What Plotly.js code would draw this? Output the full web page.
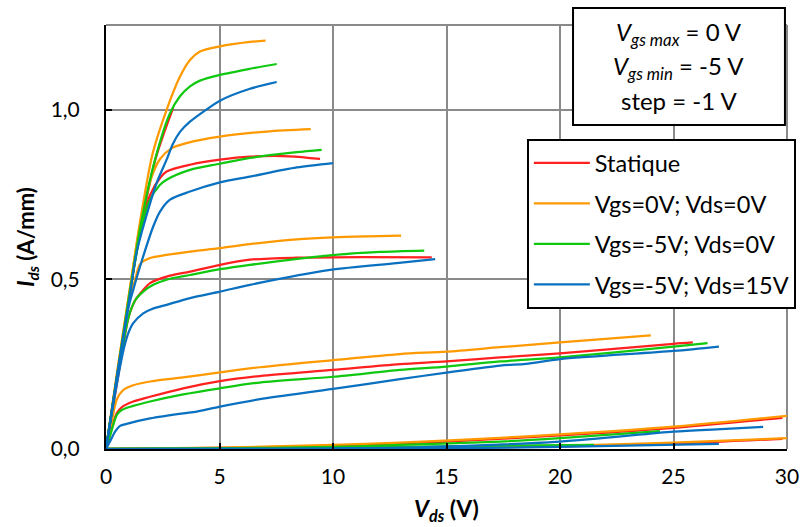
<!DOCTYPE html>
<html>
<head>
<meta charset="utf-8">
<script src="https://cdn.plot.ly/plotly-3.0.1.min.js"></script>
<style>html,body{margin:0;padding:0;background:#fff;}#chart{width:801px;height:527px;}</style>
</head>
<body>
<div id="chart"></div>
<script>
// Series names
const seriesNames = ["Statique", "Vgs=0V; Vds=0V", "Vgs=-5V; Vds=0V", "Vgs=-5V; Vds=15V"];
const seriesColors = ["#FF2020", "#FF9900", "#11C811", "#0A70C0"];

// ---- Statique (red) ----
const statV0 = [0, 0.5, 1.0, 1.5, 2.16, 2.6, 2.96];
const statI0 = [0, 0.22, 0.44, 0.64, 0.85, 0.94, 1.006];
const statV1 = [0, 0.5, 1.0, 1.5, 1.95, 2.38, 2.67, 3.7, 5.02, 6.34, 8.1, 9.43];
const statI1 = [0, 0.22, 0.44, 0.64, 0.75, 0.799, 0.818, 0.838, 0.853, 0.862, 0.863, 0.855];
const statV2 = [0, 0.5, 1.0, 1.3, 1.64, 1.94, 2.67, 3.7, 5.02, 6.34, 8.4, 11.3, 14.35];
const statI2 = [0, 0.2, 0.39, 0.44, 0.469, 0.489, 0.508, 0.523, 0.543, 0.558, 0.564, 0.566, 0.565];
const statV3 = [0, 0.25, 0.47, 0.69, 1.2, 1.94, 3.4, 5.02, 6.78, 10, 12.95, 15, 17.36, 20, 25, 25.85];
const statI3 = [0, 0.06, 0.105, 0.123, 0.14, 0.154, 0.179, 0.2, 0.215, 0.233, 0.25, 0.258, 0.27, 0.282, 0.31, 0.314];
const statV4 = [0, 5, 10, 15, 20, 24.7, 29.8];
const statI4 = [0, 0.003, 0.01, 0.022, 0.04, 0.061, 0.092];
const statV5 = [0, 10, 15, 20, 25, 29.8];
const statI5 = [0, 0.001, 0.003, 0.008, 0.016, 0.03];

// ---- Vgs=0V; Vds=0V (orange) ----
const q0V0 = [0, 0.5, 1.0, 1.5, 2.05, 2.67, 3.26, 3.7, 4.14, 5.02, 6.34, 7.03];
const q0I0 = [0, 0.23, 0.45, 0.67, 0.87, 1.0, 1.098, 1.147, 1.172, 1.187, 1.2, 1.204];
const q0V1 = [0, 0.5, 1.0, 1.5, 2.0, 2.38, 2.9, 3.55, 5.02, 7.08, 9.02];
const q0I1 = [0, 0.23, 0.45, 0.66, 0.8, 0.855, 0.887, 0.902, 0.921, 0.936, 0.943];
const q0V2 = [0, 0.5, 1.0, 1.28, 1.5, 1.94, 2.67, 3.7, 5.02, 6.34, 8.4, 10, 11.5, 13];
const q0I2 = [0, 0.22, 0.43, 0.499, 0.545, 0.563, 0.572, 0.582, 0.592, 0.604, 0.618, 0.624, 0.627, 0.629];
const q0V3 = [0, 0.25, 0.47, 0.76, 1.2, 1.94, 3.4, 5.02, 6.78, 10, 12.95, 15, 17.36, 20, 24];
const q0I3 = [0, 0.08, 0.145, 0.174, 0.188, 0.199, 0.211, 0.226, 0.241, 0.262, 0.28, 0.287, 0.3, 0.314, 0.335];
const q0V4 = [0, 5, 10, 12.95, 17.36, 20, 25, 30];
const q0I4 = [0, 0.004, 0.012, 0.019, 0.033, 0.043, 0.066, 0.098];
const q0V5 = [0, 10, 15, 21.6, 25, 30];
const q0I5 = [0, 0.002, 0.005, 0.012, 0.019, 0.032];

// ---- Vgs=-5V; Vds=0V (green) ----
const q1V0 = [0, 0.5, 1.0, 1.5, 2.16, 2.82, 3.26, 3.7, 4.14, 5.02, 6.34, 7.52];
const q1I0 = [0, 0.22, 0.44, 0.65, 0.853, 0.99, 1.04, 1.069, 1.086, 1.103, 1.121, 1.135];
const q1V1 = [0, 0.5, 1.0, 1.5, 1.9, 2.38, 2.67, 3.7, 5.02, 6.34, 8.4, 9.5];
const q1I1 = [0, 0.22, 0.44, 0.63, 0.73, 0.779, 0.794, 0.823, 0.841, 0.858, 0.875, 0.882];
const q1V2 = [0, 0.5, 1.0, 1.3, 1.64, 2.08, 2.67, 3.7, 5.02, 6.34, 9.87, 12.07, 14.02];
const q1I2 = [0, 0.21, 0.39, 0.44, 0.464, 0.484, 0.499, 0.513, 0.53, 0.543, 0.571, 0.581, 0.585];
const q1V3 = [0, 0.25, 0.47, 0.69, 1.2, 1.94, 3.4, 5.02, 6.78, 10, 12.95, 15, 17.36, 20, 25, 26.5];
const q1I3 = [0, 0.055, 0.1, 0.115, 0.127, 0.14, 0.161, 0.179, 0.196, 0.213, 0.233, 0.243, 0.258, 0.27, 0.302, 0.312];
const q1V4 = [0, 5, 10, 12.95, 17.36, 20, 24.4];
const q1I4 = [0, 0.002, 0.006, 0.012, 0.022, 0.032, 0.053];
const q1V5 = [0, 5, 10, 15, 21.5];
const q1I5 = [0, 0.002, 0.004, 0.008, 0.012];

// ---- Vgs=-5V; Vds=15V (blue) ----
const q2V0 = [0, 0.5, 1.0, 1.35, 1.79, 2.23, 2.67, 2.95, 3.26, 3.7, 4.58, 5.02, 6.34, 7.52];
const q2I0 = [0, 0.22, 0.43, 0.58, 0.69, 0.784, 0.853, 0.9, 0.935, 0.965, 1.008, 1.027, 1.062, 1.082];
const q2V1 = [0, 0.5, 1.0, 1.2, 1.5, 2.08, 2.38, 2.82, 3.7, 5.02, 6.34, 8.4, 10.0];
const q2I1 = [0, 0.22, 0.42, 0.469, 0.538, 0.656, 0.7, 0.735, 0.759, 0.786, 0.803, 0.83, 0.843];
const q2V2 = [0, 0.5, 0.8, 0.98, 1.2, 1.64, 2.0, 2.67, 3.7, 5.02, 6.34, 9.87, 12.8, 14.5];
const q2I2 = [0, 0.2, 0.3, 0.341, 0.371, 0.4, 0.412, 0.425, 0.445, 0.464, 0.484, 0.528, 0.548, 0.56];
const q2V3 = [0, 0.2, 0.4, 0.62, 0.91, 1.94, 3.4, 4.0, 5.02, 6.78, 10, 12.95, 15, 17.36, 18.5, 20, 25, 27];
const q2I3 = [0, 0.025, 0.051, 0.068, 0.074, 0.09, 0.105, 0.11, 0.125, 0.147, 0.177, 0.206, 0.225, 0.246, 0.251, 0.265, 0.289, 0.302];
const q2V4 = [0, 5, 10, 12.95, 20, 25, 26.9, 28.95];
const q2I4 = [0, 0.001, 0.002, 0.004, 0.022, 0.051, 0.058, 0.065];
const q2V5 = [0, 10, 12.95, 20, 27];
const q2I5 = [0, 0.0, 0.001, 0.006, 0.015];

// Axis tick values
const xTicks = [0, 5, 10, 15, 20, 25, 30];
const yTicks = [0, 0.5, 1.0];

const seriesCurves = [
  [[statV0, statI0], [statV1, statI1], [statV2, statI2], [statV3, statI3], [statV4, statI4], [statV5, statI5]],
  [[q0V0, q0I0], [q0V1, q0I1], [q0V2, q0I2], [q0V3, q0I3], [q0V4, q0I4], [q0V5, q0I5]],
  [[q1V0, q1I0], [q1V1, q1I1], [q1V2, q1I2], [q1V3, q1I3], [q1V4, q1I4], [q1V5, q1I5]],
  [[q2V0, q2I0], [q2V1, q2I1], [q2V2, q2I2], [q2V3, q2I3], [q2V4, q2I4], [q2V5, q2I5]]
];

const FONT = "Lato, 'Open Sans', sans-serif";
const traces = [];
seriesCurves.forEach((curves, s) => {
  curves.forEach((c, k) => {
    traces.push({
      x: c[0], y: c[1], type: "scatter", mode: "lines",
      name: seriesNames[s], legendgroup: "g" + s, showlegend: k === 0,
      line: {color: seriesColors[s], width: 2.25, shape: "spline", smoothing: 0.8},
      hoverinfo: "skip"
    });
  });
});

const SUB = '<sub style="font-size:17px">';
const layout = {
  width: 801, height: 527,
  margin: {l: 106, r: 14, t: 25, b: 78, pad: 0, autoexpand: false},
  paper_bgcolor: "#ffffff", plot_bgcolor: "#ffffff",
  separators: ",.",
  font: {family: FONT, size: 21, color: "#000"},
  showlegend: true,
  legend: {
    x: 0.618, y: 0.731, xanchor: "left", yanchor: "top",
    bgcolor: "#ffffff", bordercolor: "#000", borderwidth: 2,
    font: {family: FONT, size: 23.5, color: "#000"},
    tracegroupgap: 7, itemwidth: 56, traceorder: "grouped"
  },
  xaxis: {
    range: [0, 30], tickvals: xTicks, ticktext: xTicks.map(String),
    showgrid: true, gridcolor: "#8a8a8a", gridwidth: 2,
    showline: true, linecolor: "#000", linewidth: 2, zeroline: false,
    ticks: "inside", ticklen: 6, tickwidth: 2, tickcolor: "#000",
    ticklabelstandoff: 8,
    tickfont: {family: FONT, size: 21, color: "#000"},
    title: {text: "<b><i>V</i>" + SUB + "<i>ds</i></sub> (V)</b>", font: {family: FONT, size: 23, color: "#000"}, standoff: 14}
  },
  yaxis: {
    range: [0, 1.25], tickvals: yTicks, tickformat: ".1f",
    showgrid: true, gridcolor: "#8a8a8a", gridwidth: 2,
    showline: true, linecolor: "#000", linewidth: 2, zeroline: false,
    ticks: "inside", ticklen: 6, tickwidth: 2, tickcolor: "#000",
    ticklabelstandoff: 20,
    tickfont: {family: FONT, size: 21, color: "#000"},
    title: {text: "<b><i>I</i>" + SUB + "<i>ds</i></sub> (A/mm)</b>", font: {family: FONT, size: 22, color: "#000"}, standoff: 10}
  },
  shapes: [
    {type: "line", xref: "paper", yref: "paper", x0: 0, x1: 1, y0: 1, y1: 1, line: {color: "#8a8a8a", width: 2}, layer: "below"},
    {type: "line", xref: "paper", yref: "paper", x0: 1, x1: 1, y0: 0, y1: 1, line: {color: "#8a8a8a", width: 2}, layer: "below"},
    {type: "rect", xref: "paper", yref: "paper", x0: 0.6858, x1: 0.997, y0: 0.764, y1: 1.040, line: {color: "#000", width: 2}, fillcolor: "#ffffff", layer: "above"}
  ],
  annotations: [
    {xref: "paper", yref: "paper", x: 0.841, y: 0.979, xanchor: "center", yanchor: "middle", showarrow: false,
     text: "<i>V</i><sub style=\"font-size:19px\"><i>gs max</i></sub> = 0 V", font: {family: FONT, size: 24, color: "#000"}},
    {xref: "paper", yref: "paper", x: 0.841, y: 0.899, xanchor: "center", yanchor: "middle", showarrow: false,
     text: "<i>V</i><sub style=\"font-size:19px\"><i>gs min</i></sub> = -5 V", font: {family: FONT, size: 24, color: "#000"}},
    {xref: "paper", yref: "paper", x: 0.841, y: 0.823, xanchor: "center", yanchor: "middle", showarrow: false,
     text: "step = -1 V", font: {family: FONT, size: 24, color: "#000"}}
  ]
};

Plotly.newPlot("chart", traces, layout, {displayModeBar: false, staticPlot: true});
</script>
</body>
</html>
